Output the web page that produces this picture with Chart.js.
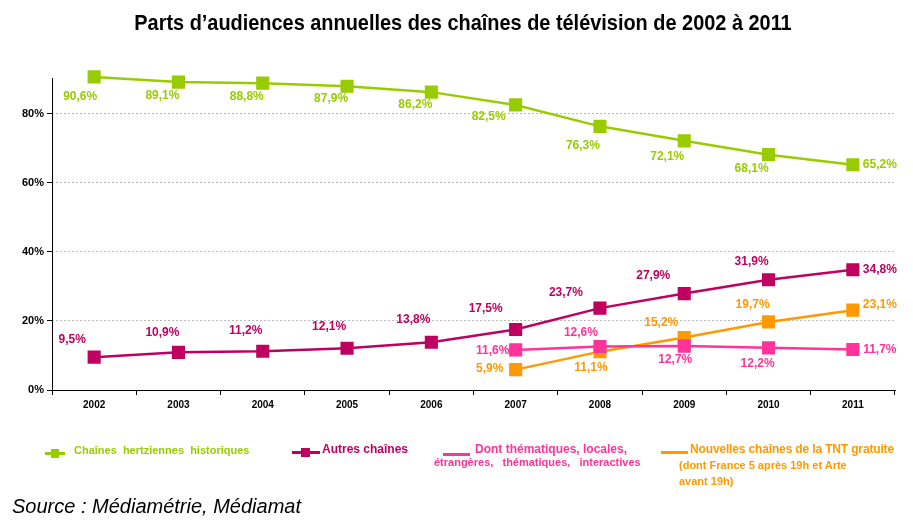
<!DOCTYPE html>
<html>
<head>
<meta charset="utf-8">
<script src="https://cdn.jsdelivr.net/npm/chart.js@4/dist/chart.umd.min.js"></script>
<style>
  html, body { margin: 0; padding: 0; background: #fff; }
  #wrap { position: relative; width: 913px; height: 528px; font-family: "Liberation Sans", Arial, sans-serif; }
  #wrap canvas { position: absolute; left: 0; top: 0; }
  .abs { position: absolute; white-space: nowrap; }
  #title { left: 0; width: 926px; top: 10px; text-align: center; font-weight: bold; font-size: 22px; color: #000; transform: scaleX(0.905); transform-origin: 463px 0; }
  .leg { font-family: "Liberation Sans Narrow", "Arial Narrow", sans-serif; font-weight: bold; font-size: 12px; }
  .mk { position: absolute; }
  #source { left: 12px; top: 495px; font-family: "Liberation Sans Narrow", "Arial Narrow", sans-serif; font-style: italic; font-size: 20px; color: #000; }
</style>
</head>
<body>
<div id="wrap">
  <canvas id="chart" width="913" height="528"></canvas>
  <div id="title" class="abs">Parts d’audiences annuelles des chaînes de télévision de 2002 à 2011</div>

  <div class="mk" style="left:45px;top:452px;width:20px;height:3px;background:#99cc00"></div>
  <div class="mk" style="left:51px;top:449px;width:8px;height:9px;background:#99cc00"></div>
  <div class="abs leg" style="left:74px;top:444px;color:#99cc00;font-size:11px">Chaînes&nbsp; hertziennes&nbsp; historiques</div>

  <div class="mk" style="left:292px;top:451px;width:28px;height:3px;background:#bf0060"></div>
  <div class="mk" style="left:301px;top:448px;width:9px;height:9px;background:#bf0060"></div>
  <div class="abs leg" style="left:322px;top:442px;color:#bf0060">Autres chaînes</div>

  <div class="mk" style="left:443px;top:453px;width:27px;height:3px;background:#ff3399"></div>
  <div class="abs leg" style="left:475px;top:442px;color:#ff3399">Dont thématiques, locales,</div>
  <div class="abs leg" style="left:434px;top:456px;color:#ff3399;font-size:11px">étrangères,&nbsp;&nbsp; thématiques,&nbsp;&nbsp; interactives</div>

  <div class="mk" style="left:661px;top:451px;width:27px;height:3px;background:#ff9900"></div>
  <div class="abs leg" style="left:690px;top:442px;color:#ff9900;letter-spacing:-0.15px">Nouvelles chaînes de la TNT gratuite</div>
  <div class="abs leg" style="left:679px;top:459px;color:#ff9900;font-size:11px">(dont France 5 après 19h et Arte</div>
  <div class="abs leg" style="left:679px;top:475px;color:#ff9900;font-size:11px">avant 19h)</div>

  <div id="source" class="abs">Source : Médiamétrie, Médiamat</div>
</div>
<script>
const years = ["2002", "2003", "2004", "2005", "2006", "2007", "2008", "2009", "2010", "2011"];
const hertziennes = [90.6, 89.1, 88.8, 87.9, 86.2, 82.5, 76.3, 72.1, 68.1, 65.2];
const autres = [9.5, 10.9, 11.2, 12.1, 13.8, 17.5, 23.7, 27.9, 31.9, 34.8];
const thematiques = [null, null, null, null, null, 11.6, 12.6, 12.7, 12.2, 11.7];
const tnt = [null, null, null, null, null, 5.9, 11.1, 15.2, 19.7, 23.1];
const yTicks = [0, 20, 40, 60, 80];

const fmt = v => v.toFixed(1).replace(".", ",") + "%";

// where each value label sits relative to its point
const R = [27, 0];
const labelPos = [
  [[-14, 20], [-16, 14], [-16, 14], [-16, 12], [-16, 13], [-27, 12], [-17, 19], [-17, 16], [-17, 14], R],
  [[-22, -17], [-16, -20], [-17, -21], [-18, -22], [-18, -23], [-30, -21], [-34, -15], [-31, -18], [-17, -18], R],
  [null, null, null, null, null, [-23, 1], [-19, -14], [-9, 14], [-11, 16], R],
  [null, null, null, null, null, [-26, -1], [-9, 16], [-23, -15], [-16, -17], [27, -5]]
];

const valueLabels = {
  id: "valueLabels",
  beforeDatasetsDraw(chart) {
    // solid y axis line (grid lines are dotted)
    const a = chart.chartArea, ctx = chart.ctx;
    ctx.save();
    ctx.strokeStyle = "#000";
    ctx.lineWidth = 1;
    ctx.beginPath();
    ctx.moveTo(a.left + 0.5, a.top - 1);
    ctx.lineTo(a.left + 0.5, a.bottom);
    ctx.stroke();
    ctx.restore();
  },
  afterDatasetsDraw(chart) {
    const ctx = chart.ctx;
    ctx.save();
    ctx.font = "bold 12px 'Liberation Sans', Arial, sans-serif";
    ctx.textAlign = "center";
    ctx.textBaseline = "middle";
    chart.data.datasets.forEach((ds, i) => {
      const meta = chart.getDatasetMeta(i);
      ctx.fillStyle = ds.borderColor;
      meta.data.forEach((pt, j) => {
        const v = ds.data[j];
        if (v == null) return;
        const off = labelPos[i][j];
        ctx.fillText(fmt(v), pt.x + off[0], pt.y + off[1]);
      });
    });
    ctx.restore();
  }
};

function line(label, data, color) {
  return {
    label: label,
    data: data,
    borderColor: color,
    backgroundColor: color,
    borderWidth: 2.5,
    pointStyle: "rect",
    pointRadius: 7.5,
    pointHoverRadius: 7.5,
    tension: 0,
    clip: false
  };
}

new Chart(document.getElementById("chart"), {
  type: "line",
  data: {
    labels: years,
    datasets: [
      line("Chaînes hertziennes historiques", hertziennes, "#99cc00"),
      line("Autres chaînes", autres, "#bf0060"),
      line("Dont thématiques, locales, étrangères, thématiques, interactives", thematiques, "#ff3399"),
      line("Nouvelles chaînes de la TNT gratuite", tnt, "#ff9900")
    ]
  },
  options: {
    responsive: false,
    animation: false,
    layout: { padding: { top: 79, right: 18, bottom: 118, left: 0 } },
    plugins: { legend: { display: false }, tooltip: { enabled: false } },
    scales: {
      x: {
        offset: true,
        grid: { offset: true, drawOnChartArea: false, color: "#000", tickColor: "#000", tickLength: 5 },
        border: { color: "#000", width: 1 },
        ticks: { color: "#000", font: { size: 10, weight: "bold", family: "'Liberation Sans', Arial" }, padding: 4 },
        afterFit: s => { s.height = 20; }
      },
      y: {
        min: 0,
        max: 90,
        afterBuildTicks: s => { s.ticks = yTicks.map(v => ({ value: v })); },
        grid: {
          color: c => (c.tick && c.tick.value === 0 ? "rgba(0,0,0,0)" : "#b8b8b8"),
          tickColor: "#000",
          tickLength: 5,
          lineWidth: 1
        },
        border: { display: false, dash: [2, 2] },
        ticks: {
          color: "#000",
          font: { size: 11, weight: "bold", family: "'Liberation Sans', Arial" },
          padding: 3,
          callback: v => v + "%"
        },
        afterFit: s => { s.width = 52; }
      }
    }
  },
  plugins: [valueLabels]
});
</script>
</body>
</html>
